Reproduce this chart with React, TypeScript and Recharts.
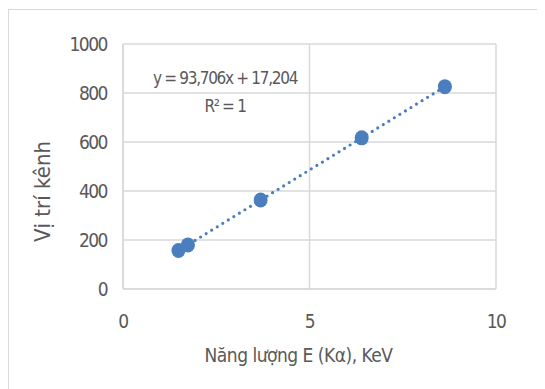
import { ScatterChart, Scatter, XAxis, YAxis, CartesianGrid, Label } from 'recharts'

const energies = [1.487, 1.74, 3.69, 6.4, 8.63]
const channels = [157, 180, 363, 617, 826]
const xTicks = [0, 5, 10]
const yTicks = [0, 200, 400, 600, 800, 1000]
const equationText = 'y = 93,706x + 17,204'
const r2Text = 'R² = 1'

const font = '"DejaVu Sans Condensed", "DejaVu Sans", sans-serif'
const grey = '#595959'
const gridColor = '#d9d9d9'
const blue = '#4a7ebf'

const points = energies.map((x, i) => ({ x, y: channels[i] }))

// least squares fit for the dotted trendline
const n = points.length
const mx = energies.reduce((a, b) => a + b, 0) / n
const my = channels.reduce((a, b) => a + b, 0) / n
const slope =
  points.reduce((s, p) => s + (p.x - mx) * (p.y - my), 0) /
  points.reduce((s, p) => s + (p.x - mx) ** 2, 0)
const intercept = my - slope * mx
const xMin = Math.min(...energies)
const xMax = Math.max(...energies)
const trend = [
  { x: xMin, y: slope * xMin + intercept },
  { x: xMax, y: slope * xMax + intercept },
]

const Dot = (props: any) => <ellipse cx={props.cx} cy={props.cy} rx={7} ry={7.5} fill={blue} />

const tickStyle = { fill: grey, fontSize: 19, fontFamily: font, letterSpacing: -1.5 }

const XTitle = ({ viewBox }: any) => (
  <text
    x={viewBox.x + viewBox.width / 2 - 11}
    y={viewBox.y + 73}
    textAnchor="middle"
    fill={grey}
    fontSize={19}
    fontFamily={font}
    style={{ letterSpacing: -0.5 }}
  >
    Năng lượng E (Kα), KeV
  </text>
)

const YTitle = ({ viewBox }: any) => {
  const cx = viewBox.x + 35
  const cy = viewBox.y + viewBox.height / 2 + 25
  return (
    <text
      x={cx}
      y={cy}
      dy={7}
      transform={`rotate(-90, ${cx}, ${cy})`}
      textAnchor="middle"
      fill={grey}
      fontSize={22}
      fontFamily={font}
    >
      Vị trí kênh
    </text>
  )
}

export default function App() {
  return (
    <div style={{ position: 'relative', width: 537, height: 381, overflow: 'hidden', fontFamily: font }}>
      <div
        style={{
          position: 'absolute',
          left: 0,
          top: 1,
          width: 700,
          height: 500,
          borderTop: `1.5px solid ${gridColor}`,
          borderLeft: `1.5px solid ${gridColor}`,
        }}
      />
      <ScatterChart width={537} height={381} margin={{ top: 36, right: 49, left: 0, bottom: 0 }}>
        <CartesianGrid stroke={gridColor} strokeWidth={1.5} />
        <XAxis
          type="number"
          dataKey="x"
          domain={[0, 10]}
          ticks={xTicks}
          height={100}
          tickLine={false}
          tickSize={0}
          tickMargin={26}
          axisLine={{ stroke: gridColor, strokeWidth: 1.5 }}
          tick={tickStyle}
        >
          <Label content={XTitle} />
        </XAxis>
        <YAxis
          type="number"
          dataKey="y"
          domain={[0, 1000]}
          ticks={yTicks}
          width={115}
          tickLine={false}
          tickSize={0}
          tickMargin={16}
          axisLine={{ stroke: gridColor, strokeWidth: 1.5 }}
          tick={tickStyle}
        >
          <Label content={YTitle} />
        </YAxis>
        <Scatter
          data={trend}
          isAnimationActive={false}
          line={{ stroke: blue, strokeWidth: 3.2, strokeDasharray: '0 6.5', strokeLinecap: 'round' }}
          shape={() => <g />}
        />
        <Scatter data={points} isAnimationActive={false} shape={Dot} />
      </ScatterChart>
      <div
        style={{
          position: 'absolute',
          left: 117,
          width: 200,
          top: 56,
          textAlign: 'center',
          color: grey,
          fontSize: 17,
          letterSpacing: -1.3,
          lineHeight: '28px',
        }}
      >
        <div>{equationText}</div>
        <div>{r2Text}</div>
      </div>
    </div>
  )
}
